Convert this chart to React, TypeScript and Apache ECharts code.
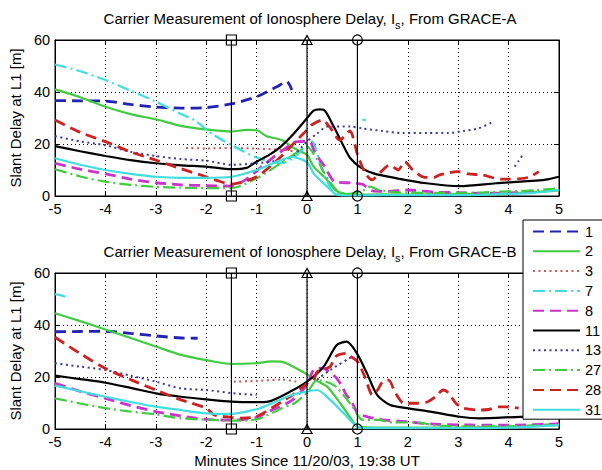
import { useEffect, useRef } from "react";
import * as echarts from "echarts";

type Pt = [number, number | null];

// Satellite PRN numbers, in legend order
const PRN = ["1", "2", "3", "7", "8", "11", "13", "27", "28", "31"];

// ---- GRACE-A slant delay [m] vs minutes ----
const a1: Pt[] = [[-5, 36.7], [-4.5, 36.6], [-4, 36.5], [-3.5, 35.2], [-3, 34.2], [-2.5, 33.8], [-2, 34], [-1.5, 35.4], [-1, 38.2], [-0.6, 42], [-0.4, 44], [-0.3, 40.8]];
const a2: Pt[] = [[-5, 41], [-4.5, 38], [-4, 34.3], [-3.5, 31.5], [-3, 29.5], [-2.5, 27], [-2, 25.6], [-1.5, 24.8], [-1.2, 25.4], [-1, 25.3], [-0.8, 23], [-0.5, 21.5], [-0.25, 18.3], [0, 15.8], [0.13, 11.3], [0.4, 6.2], [0.56, 2.3], [0.75, 0.8], [1, 0.5], [1.5, 0.6], [2, 0.5], [2.5, 0.6], [3, 0.7], [3.5, 0.8], [4, 1], [4.5, 1.5], [5, 2.2]];
const a3: Pt[] = [[-2.4, 18.5], [-2, 18.3], [-1.5, 18.5], [-1, 18.2], [-0.5, 17.8], [-0.2, 17]];
const a7: Pt[] = [[-5, 50.6], [-4.5, 48], [-4, 44.6], [-3.5, 40.5], [-3, 36.3], [-2.5, 31.5], [-2.24, 29.2], [-1.85, 23.5], [-1.5, 19.6], [-1, 14.8], [-0.5, 12.6], [-0.25, 15], [0, 19.7], [0.1, 21], [0.3, 10], [0.5, 2], [0.65, 0.5], [0.9, null], [1.1, 29.4], [1.17, 29.2]];
const a8: Pt[] = [[-5, 12.6], [-4.5, 10.3], [-4, 8.5], [-3.5, 6.5], [-3, 5.1], [-2.5, 4.3], [-2, 4], [-1.5, 3.8], [-1.2, 6.5], [-0.86, 11.9], [-0.52, 17], [-0.2, 20.9], [0, 21], [0.08, 20.4], [0.15, 17], [0.35, 11.3], [0.55, 5.5], [0.9, 5], [1.1, 4.5], [1.3, 2], [1.6, 1.8], [2, 2.3], [2.5, 1.5], [3, 1.3], [3.5, 1], [4, 1.2], [4.5, 1.8]];
const a11: Pt[] = [[-5, 19.2], [-4.5, 17.2], [-4, 15.4], [-3.5, 13.8], [-3, 12.6], [-2.5, 11.8], [-2, 11.3], [-1.5, 10.3], [-1.2, 10.8], [-1, 13.2], [-0.75, 15.8], [-0.52, 19], [-0.26, 24], [0, 29.9], [0.13, 32.8], [0.25, 33.3], [0.33, 33.2], [0.53, 26.7], [0.73, 19], [0.86, 14.5], [1.06, 11], [1.32, 8.7], [1.78, 6.8], [2.37, 4.9], [3.03, 3.8], [3.75, 4.9], [4.54, 5.9], [4.8, 6.5], [5, 7.4]];
const a13: Pt[] = [[-5, 23], [-4.5, 21], [-4, 19.5], [-3.5, 17], [-3, 15.4], [-2.5, 14.2], [-2, 13.6], [-1.5, 12], [-1, 12.6], [-0.6, 13.5], [-0.3, 15.1], [0, 21], [0.2, 24], [0.4, 26.7], [0.86, 26.7], [1.1, 26], [1.5, 25], [1.9, 24.2], [2.4, 24.2], [2.8, 24.2], [3.1, 25], [3.4, 26], [3.7, 28.6], [4.1, null], [4.12, 11.3], [4.2, 13.5], [4.3, 16.4]];
const a27: Pt[] = [[-5, 10.3], [-4.5, 7.5], [-4, 5.5], [-3.5, 4.3], [-3, 3.5], [-2.5, 3.2], [-2, 3], [-1.5, 3], [-1, 6.8], [-0.52, 12.6], [-0.13, 17.7], [0, 19], [0.2, 14], [0.4, 7], [0.6, 2], [0.8, 0.8], [1.1, 2], [1.25, 3.6], [1.4, 2.5], [1.7, 1.5], [2, 1.3], [2.5, 1.2], [3, 1.2], [3.5, 1.4], [4, 1.8], [4.5, 2.2], [5, 3]];
const a28: Pt[] = [[-5, 29.2], [-4.5, 24.5], [-4, 20.9], [-3.5, 17], [-3, 13.8], [-2.5, 10.5], [-2, 7.4], [-1.5, 4.6], [-1, 7.4], [-0.52, 15.1], [-0.26, 20.3], [0, 25.4], [0.09, 27.3], [0.3, 29.2], [0.46, 26.3], [0.65, 21.5], [0.85, 25], [1, 16], [1.15, 9], [1.29, 6.2], [1.45, 9], [1.64, 11.9], [1.74, 10.8], [1.81, 10], [1.94, 13.2], [2.1, 10], [2.33, 7.2], [2.53, 7.2], [2.63, 8.1], [2.99, 9.4], [3.2, 8.5], [3.5, 8], [3.7, 7], [3.85, 6.5], [4, 6.5], [4.2, 6.6], [4.4, 7.2], [4.6, 9.4]];
const a31: Pt[] = [[-5, 14.5], [-4.5, 12], [-4, 10], [-3.5, 8.5], [-3, 7.4], [-2.5, 7], [-2, 7], [-1.5, 7.4], [-1, 10], [-0.52, 13.8], [-0.3, 15], [0, 13], [0.13, 8.7], [0.4, 3.6], [0.56, 0.8], [0.8, 0.2], [1.5, 0.3], [2, 0.3], [3, 0.3], [4, 0.8], [4.5, 1.2], [5, 2.3]];

// ---- GRACE-B slant delay [m] vs minutes ----
const b1: Pt[] = [[-5, 37.4], [-4.5, 37.5], [-4, 37.6], [-3.5, 36.8], [-3, 35.8], [-2.5, 35], [-2.17, 34.9]];
const b2: Pt[] = [[-5, 44.5], [-4.5, 41.5], [-4, 38.3], [-3.5, 35], [-3, 31.7], [-2.5, 28.5], [-2, 26.5], [-1.5, 25], [-1, 25.3], [-0.7, 26], [-0.52, 25.9], [-0.33, 24.5], [0, 21], [0.2, 18.5], [0.4, 16.3], [0.66, 9.9], [0.89, 3.5], [1, 0.8], [1.5, 0.5], [2, 0.5], [3, 0.5], [4, 1], [5, 2]];
const b3: Pt[] = [[-1.45, 18.2], [-1, 18.5], [-0.5, 19], [-0.15, 18]];
const b7: Pt[] = [[-5, 51.9], [-4.9, 51.5], [-4.8, 50.9]];
const b8: Pt[] = [[-5, 17.6], [-4.5, 14.5], [-4, 11.8], [-3.5, 9], [-3, 6.7], [-2.5, 5], [-2, 3.7], [-1.5, 3.4], [-1, 4.5], [-0.7, 7.3], [-0.3, 11], [0, 17], [0.13, 22.7], [0.3, 23.4], [0.56, 20.1], [0.7, 16.3], [0.76, 13.8], [0.9, 10], [1, 6.2], [1.2, 4.7], [1.5, 3.5], [2, 2.8], [2.3, 2.2], [2.6, 1.8], [3, 1.6], [3.5, 1.5], [4, 1.5], [5, 2]];
const b11: Pt[] = [[-5, 20.5], [-4.5, 19.2], [-4, 17.8], [-3.5, 15.8], [-3, 13.7], [-2.5, 12.4], [-2, 11.4], [-1.5, 10.5], [-1, 10.3], [-0.77, 10.5], [-0.33, 14.4], [0, 18.2], [0.33, 24], [0.59, 32.3], [0.79, 33.6], [0.99, 29.1], [1.19, 21.4], [1.39, 13.1], [1.65, 9.2], [1.98, 8], [2.44, 6.7], [3.03, 4.7], [3.43, 4.1], [4.23, 4.7], [5, 5]];
const b13: Pt[] = [[-5, 25.3], [-4.5, 24], [-4, 22.7], [-3.5, 20.5], [-3, 18.2], [-2.5, 15.6], [-2, 15], [-1.5, 13.8], [-1, 13.1], [-0.9, null], [0.2, 19], [0.46, 22.7], [0.89, 27.8]];
const b27: Pt[] = [[-5, 11.8], [-4.5, 9.8], [-4, 8], [-3.5, 6.7], [-3, 5.6], [-2.5, 4.1], [-2, 3.6], [-1.5, 3.2], [-1, 3.7], [-0.5, 8], [-0.24, 10], [0, 14], [0.2, 18.8], [0.46, 17.6], [0.59, 16], [0.89, 9], [1.1, 3.5], [1.4, 3.5], [1.7, 2.5], [2.2, 2.5], [2.5, 1.5], [3, 1], [4, 1], [5, 1.5]];
const b28: Pt[] = [[-5, 35.3], [-4.5, 29], [-4, 23.3], [-3.5, 19], [-3, 15], [-2.5, 11.2], [-2, 8], [-1.84, 5.4], [-1.5, 4.5], [-1.3, 4.2], [-1, 4.8], [-0.5, 10.5], [-0.24, 13.7], [0, 17.5], [0.13, 18.8], [0.2, 22], [0.46, 24], [0.56, 27.8], [0.79, 29.1], [0.86, 28], [1, 26], [1.15, 20], [1.3, 13], [1.4, 15], [1.5, 18.2], [1.62, 18.8], [1.75, 14], [1.92, 9.9], [2.2, 9.9], [2.4, 10.5], [2.55, 12.4], [2.7, 15], [2.8, 14], [2.95, 10], [3.1, 8], [3.45, 7.3], [3.6, 7.5], [3.8, 8.5], [3.95, 8.5], [4.2, 8]];
const b31: Pt[] = [[-5, 16.7], [-4.5, 14.5], [-4, 12.4], [-3.5, 10.4], [-3, 8.6], [-2.5, 7.3], [-2, 6], [-1.5, 5.8], [-1, 7.6], [-0.85, 8.6], [-0.3, 13.1], [0, 14.4], [0.2, 15], [0.46, 11.2], [0.73, 6], [0.96, 1.5], [1.1, 0.3], [2, 0.3], [3, 0.3], [4, 0.5], [5, 1.5]];

const GRACE_A = [a1, a2, a3, a7, a8, a11, a13, a27, a28, a31];
const GRACE_B = [b1, b2, b3, b7, b8, b11, b13, b27, b28, b31];

// Event epochs [min] and their marker shapes
const EVENT_TIMES = [-1.5, 0, 1];
const EVENT_SYMBOLS = ["rect", "triangle", "circle"];

const TITLES = [
  "Carrier Measurement of Ionosphere Delay, I{s|s}, From GRACE-A",
  "Carrier Measurement of Ionosphere Delay, I{s|s}, From GRACE-B",
];

const FONT = "'Liberation Sans', Arial, sans-serif";

// line appearance per PRN (MATLAB-like colour / line spec)
const LINE_STYLE: Record<string, { color: string; width: number; type: any }> = {
  "1": { color: "#2222b4", width: 2.8, type: [11, 6] },
  "2": { color: "#3fcc3f", width: 2.2, type: "solid" },
  "3": { color: "#c85a5a", width: 2, type: [2, 3.5] },
  "7": { color: "#40dede", width: 2.2, type: [12, 4, 2, 4] },
  "8": { color: "#cc33cc", width: 2.8, type: [11, 6] },
  "11": { color: "#000000", width: 2.2, type: "solid" },
  "13": { color: "#3a3a9e", width: 2, type: [2, 3.5] },
  "27": { color: "#40cc40", width: 2.2, type: [12, 4, 2, 4] },
  "28": { color: "#cc2222", width: 2.8, type: [11, 6] },
  "31": { color: "#40dede", width: 2.2, type: "solid" },
};

const GRIDS = [
  { left: 54, top: 40, width: 505, height: 156 },
  { left: 54, top: 273, width: 505, height: 156 },
];

function buildOption() {
  const xAxis: any[] = [];
  const yAxis: any[] = [];
  const series: any[] = [];

  GRIDS.forEach((_, g) => {
    const tick = { show: true, inside: true, length: 5, lineStyle: { color: "#000" } };
    xAxis.push({
      type: "value", gridIndex: g, min: -5, max: 5, interval: 1,
      axisLine: { show: true, onZero: false, lineStyle: { color: "#000" } },
      axisTick: tick,
      axisLabel: { color: "#000", fontSize: 14.5, fontFamily: FONT, margin: 5 },
      splitLine: { show: true, lineStyle: { color: "#000", type: [1, 3], width: 1 } },
      name: g === 1 ? "Minutes Since 11/20/03, 19:38 UT" : "",
      nameLocation: "middle", nameGap: 24,
      nameTextStyle: { color: "#000", fontSize: 15, fontFamily: FONT },
    });
    xAxis.push({
      type: "value", gridIndex: g, min: -5, max: 5, interval: 1, position: "top",
      axisLine: { show: true, onZero: false, lineStyle: { color: "#000" } },
      axisTick: tick, axisLabel: { show: false }, splitLine: { show: false },
    });
    yAxis.push({
      type: "value", gridIndex: g, min: 0, max: 60, interval: 20,
      axisLine: { show: true, onZero: false, lineStyle: { color: "#000" } },
      axisTick: tick,
      axisLabel: { color: "#000", fontSize: 14.5, fontFamily: FONT, margin: 5 },
      splitLine: { show: true, lineStyle: { color: "#000", type: [1, 3], width: 1 } },
      name: "Slant Delay at L1 [m]", nameLocation: "middle", nameGap: 28, nameRotate: 90,
      nameTextStyle: { color: "#000", fontSize: 15, fontFamily: FONT },
    });
    yAxis.push({
      type: "value", gridIndex: g, min: 0, max: 60, interval: 20, position: "right",
      axisLine: { show: true, onZero: false, lineStyle: { color: "#000" } },
      axisTick: tick, axisLabel: { show: false }, splitLine: { show: false },
    });

    const panel = g === 0 ? GRACE_A : GRACE_B;
    panel.forEach((data, i) => {
      const name = PRN[i];
      const st = LINE_STYLE[name];
      series.push({
        type: "line", name, data, xAxisIndex: g * 2, yAxisIndex: g * 2,
        symbol: "none", smooth: 0.25, connectNulls: false,
        lineStyle: { color: st.color, width: st.width, type: st.type, cap: "butt" },
        itemStyle: { color: st.color },
        emphasis: { disabled: true },
      });
    });

    EVENT_TIMES.forEach((t, k) => {
      series.push({
        type: "line", data: [[t, 0], [t, 60]], xAxisIndex: g * 2, yAxisIndex: g * 2,
        symbol: EVENT_SYMBOLS[k], symbolSize: k === 1 ? [10, 9] : 10, showSymbol: true, clip: false,
        lineStyle: { color: "#000", width: 1.2 },
        itemStyle: { color: "rgba(0,0,0,0)", borderColor: "#000", borderWidth: 1.2 },
        emphasis: { disabled: true }, z: 5,
      });
    });
  });

  return {
    animation: false,
    backgroundColor: "#fff",
    textStyle: { fontFamily: FONT },
    title: TITLES.map((text, g) => ({
      text,
      left: 305, top: g === 0 ? 1 : 234, textAlign: "center",
      textStyle: {
        color: "#000", fontSize: 15, fontWeight: "normal", fontFamily: FONT, lineHeight: 24,
        rich: { s: { fontSize: 11, verticalAlign: "bottom", lineHeight: 24, fontFamily: FONT, color: "#000" } },
      },
    })),
    grid: GRIDS.map((r) => ({ ...r, show: true, borderColor: "#000", borderWidth: 1, containLabel: false })),
    legend: {
      data: PRN, orient: "vertical", left: 523, top: 220,
      itemWidth: 47, itemHeight: 14, itemGap: 4.8,
      padding: [4, 14, 2, 9],
      backgroundColor: "#fff", borderColor: "#000", borderWidth: 1,
      itemStyle: { color: "rgba(0,0,0,0)", borderWidth: 0, opacity: 0 },
      textStyle: { color: "#000", fontSize: 14.5, fontFamily: FONT },
      selectedMode: false, z: 10,
    },
    xAxis, yAxis, series,
  };
}

export default function App() {
  const ref = useRef<HTMLDivElement>(null);
  useEffect(() => {
    if (!ref.current) return;
    const chart = echarts.init(ref.current, null, { renderer: "svg" });
    chart.setOption(buildOption() as any);
    return () => chart.dispose();
  }, []);
  return (
    <div
      ref={ref}
      style={{ position: "fixed", left: 0, top: 0, width: 602, height: 470, background: "#fff" }}
    />
  );
}
